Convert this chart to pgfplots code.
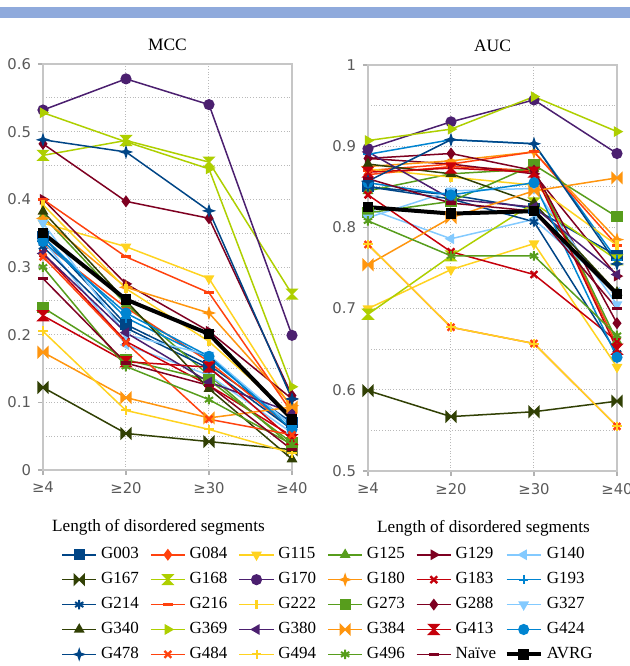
\documentclass[border=0pt]{standalone}
\usepackage{pgfplots}
\pgfplotsset{compat=1.18}
\usepackage{fontspec}
\setmainfont{Liberation Serif}
\newfontfamily\tickfont{DejaVu Sans}

% LibreOffice default chart palette
\definecolor{cA}{HTML}{004586}
\definecolor{cB}{HTML}{FF420E}
\definecolor{cC}{HTML}{FFD320}
\definecolor{cD}{HTML}{579D1C}
\definecolor{cE}{HTML}{7E0021}
\definecolor{cF}{HTML}{83CAFF}
\definecolor{cG}{HTML}{314004}
\definecolor{cH}{HTML}{AECF00}
\definecolor{cI}{HTML}{4B1F6F}
\definecolor{cJ}{HTML}{FF950E}
\definecolor{cK}{HTML}{C5000B}
\definecolor{cL}{HTML}{0084D1}
\definecolor{band}{RGB}{143,170,220}

\pgfdeclareplotmark{bowtie}{%
  \pgfpathmoveto{\pgfqpoint{-\pgfplotmarksize}{\pgfplotmarksize}}%
  \pgfpathlineto{\pgfqpoint{\pgfplotmarksize}{-\pgfplotmarksize}}%
  \pgfpathlineto{\pgfqpoint{\pgfplotmarksize}{\pgfplotmarksize}}%
  \pgfpathlineto{\pgfqpoint{-\pgfplotmarksize}{-\pgfplotmarksize}}%
  \pgfpathclose\pgfusepathqfillstroke}
\pgfdeclareplotmark{hourglass}{%
  \pgfpathmoveto{\pgfqpoint{-\pgfplotmarksize}{\pgfplotmarksize}}%
  \pgfpathlineto{\pgfqpoint{\pgfplotmarksize}{\pgfplotmarksize}}%
  \pgfpathlineto{\pgfqpoint{-\pgfplotmarksize}{-\pgfplotmarksize}}%
  \pgfpathlineto{\pgfqpoint{\pgfplotmarksize}{-\pgfplotmarksize}}%
  \pgfpathclose\pgfusepathqfillstroke}
\pgfdeclareplotmark{star4}{%
  \pgfpathmoveto{\pgfqpoint{0pt}{\pgfplotmarksize}}%
  \pgfpathlineto{\pgfqpoint{0.25\pgfplotmarksize}{0.25\pgfplotmarksize}}%
  \pgfpathlineto{\pgfqpoint{\pgfplotmarksize}{0pt}}%
  \pgfpathlineto{\pgfqpoint{0.25\pgfplotmarksize}{-0.25\pgfplotmarksize}}%
  \pgfpathlineto{\pgfqpoint{0pt}{-\pgfplotmarksize}}%
  \pgfpathlineto{\pgfqpoint{-0.25\pgfplotmarksize}{-0.25\pgfplotmarksize}}%
  \pgfpathlineto{\pgfqpoint{-\pgfplotmarksize}{0pt}}%
  \pgfpathlineto{\pgfqpoint{-0.25\pgfplotmarksize}{0.25\pgfplotmarksize}}%
  \pgfpathclose\pgfusepathqfillstroke}

\pgfplotscreateplotcyclelist{lo}{
{cA,mark=square*},
{cB,mark=diamond*},
{cC,mark=triangle*,mark options={rotate=180}},
{cD,mark=triangle*},
{cE,mark=triangle*,mark options={rotate=-90}},
{cF,mark=triangle*,mark options={rotate=90}},
{cG,mark=bowtie},
{cH,mark=hourglass},
{cI,mark=*},
{cJ,mark=star4},
{cK,mark=x,mark options={line width=1.2pt}},
{cL,mark=+,mark options={line width=1pt}},
{cA,mark=asterisk,mark options={line width=1pt}},
{cB,mark=-,mark options={line width=1.6pt}},
{cC,mark=|,mark options={line width=1.6pt}},
{cD,mark=square*},
{cE,mark=diamond*},
{cF,mark=triangle*,mark options={rotate=180}},
{cG,mark=triangle*},
{cH,mark=triangle*,mark options={rotate=-90}},
{cI,mark=triangle*,mark options={rotate=90}},
{cJ,mark=bowtie},
{cK,mark=hourglass},
{cL,mark=*},
{cA,mark=star4},
{cB,mark=x,mark options={line width=1.2pt}},
{cC,mark=+,mark options={line width=1pt}},
{cD,mark=asterisk,mark options={line width=1pt}},
{cE,mark=-,mark options={line width=1.6pt}},
{black,mark=square*,line width=2pt,mark options={line width=0.5pt}},
}

\pgfplotsset{
  panel/.style={
    scale only axis, width=124.5pt, height=203pt,
    xmin=0, xmax=3, xtick={0,1,2,3},
    xticklabels={≥4,≥20,≥30,≥40},
    minor y tick num=1, grid=both,
    major grid style={densely dotted, gray!55, line width=0.5pt},
    minor grid style={densely dotted, gray!55, line width=0.5pt},
    axis line style={gray!45, line width=0.8pt},
    tick style={gray!60, line width=0.6pt},
    tick align=outside, major tick length=2.5pt, minor tick length=0pt,
    tick pos=left,
    ticklabel style={font=\tickfont\fontsize{7.4}{8}\selectfont, text=black!65},
    /pgf/number format/assume math mode=true,
    y tick label style={/pgf/number format/fixed, /pgf/number format/precision=1},
    title style={font=\fontsize{8.7}{10}\selectfont, yshift=-3pt},
    xlabel={Length of disordered segments},
    xlabel style={font=\fontsize{8.6}{10}\selectfont, at={(axis description cs:0.5,0)}, anchor=center, yshift=-28.5pt, xshift=-4.5pt},
    clip=false,
    cycle list name=lo,
    every axis plot/.append style={line width=0.75pt, mark size=2.4pt},
  },
}
\newcommand\lgd[1]{\makebox[21pt][l]{#1}}

\begin{document}
\begin{tikzpicture}
\fill[band] (0pt,324pt) rectangle (315pt,329.5pt);

\begin{axis}[panel, at={(21.5pt,98pt)}, anchor=south west,
  title={MCC}, ymin=0, ymax=0.6, ytick={0,0.1,0.2,0.3,0.4,0.5,0.6}]
\addplot coordinates {(0,0.345)(1,0.215)(2,0.155)(3,0.070)}; % G003
\addplot coordinates {(0,0.335)(1,0.240)(2,0.160)(3,0.060)}; % G084
\addplot coordinates {(0,0.365)(1,0.330)(2,0.283)(3,0.090)}; % G115
\addplot coordinates {(0,0.375)(1,0.245)(2,0.140)(3,0.035)}; % G125
\addplot coordinates {(0,0.400)(1,0.275)(2,0.205)(3,0.105)}; % G129
\addplot coordinates {(0,0.340)(1,0.185)(2,0.140)(3,0.055)}; % G140
\addplot coordinates {(0,0.122)(1,0.054)(2,0.042)(3,0.030)}; % G167
\addplot coordinates {(0,0.465)(1,0.487)(2,0.455)(3,0.260)}; % G168
\addplot coordinates {(0,0.532)(1,0.578)(2,0.540)(3,0.199)}; % G170
\addplot coordinates {(0,0.372)(1,0.270)(2,0.232)(3,0.095)}; % G180
\addplot coordinates {(0,0.320)(1,0.190)(2,0.125)(3,0.050)}; % G183
\addplot coordinates {(0,0.345)(1,0.225)(2,0.165)(3,0.065)}; % G193
\addplot coordinates {(0,0.330)(1,0.210)(2,0.150)(3,0.060)}; % G214
\addplot coordinates {(0,0.400)(1,0.315)(2,0.262)(3,0.085)}; % G216
\addplot coordinates {(0,0.392)(1,0.268)(2,0.190)(3,0.080)}; % G222
\addplot coordinates {(0,0.240)(1,0.163)(2,0.133)(3,0.040)}; % G273
\addplot coordinates {(0,0.482)(1,0.397)(2,0.372)(3,0.110)}; % G288
\addplot coordinates {(0,0.365)(1,0.200)(2,0.170)(3,0.065)}; % G327
\addplot coordinates {(0,0.382)(1,0.250)(2,0.120)(3,0.016)}; % G340
\addplot coordinates {(0,0.528)(1,0.485)(2,0.445)(3,0.123)}; % G369
\addplot coordinates {(0,0.320)(1,0.203)(2,0.130)(3,0.085)}; % G380
\addplot coordinates {(0,0.174)(1,0.107)(2,0.077)(3,0.093)}; % G384
\addplot coordinates {(0,0.228)(1,0.160)(2,0.152)(3,0.045)}; % G413
\addplot coordinates {(0,0.338)(1,0.232)(2,0.168)(3,0.060)}; % G424
\addplot coordinates {(0,0.488)(1,0.470)(2,0.383)(3,0.105)}; % G478
\addplot coordinates {(0,0.315)(1,0.188)(2,0.075)(3,0.052)}; % G484
\addplot coordinates {(0,0.205)(1,0.088)(2,0.060)(3,0.025)}; % G494
\addplot coordinates {(0,0.300)(1,0.153)(2,0.104)(3,0.038)}; % G496
\addplot coordinates {(0,0.283)(1,0.158)(2,0.125)(3,0.030)}; % Naive
\addplot coordinates {(0,0.350)(1,0.252)(2,0.201)(3,0.075)}; % AVRG
\end{axis}

\begin{axis}[panel, at={(184pt,97.5pt)}, anchor=south west,
  title={AUC}, ymin=0.5, ymax=1, ytick={0.5,0.6,0.7,0.8,0.9,1},
  legend columns=6,
  legend style={at={(-1.257,-0.168)}, anchor=north west, draw=none, fill=none,
    font=\fontsize{8.5}{10}\selectfont, row sep=1.3pt,
    /tikz/every even column/.append style={column sep=1.5pt}},
  legend entries={\lgd{G003},\lgd{G084},\lgd{G115},\lgd{G125},\lgd{G129},\lgd{G140},
    \lgd{G167},\lgd{G168},\lgd{G170},\lgd{G180},\lgd{G183},\lgd{G193},
    \lgd{G214},\lgd{G216},\lgd{G222},\lgd{G273},\lgd{G288},\lgd{G327},
    \lgd{G340},\lgd{G369},\lgd{G380},\lgd{G384},\lgd{G413},\lgd{G424},
    \lgd{G478},\lgd{G484},\lgd{G494},\lgd{G496},\lgd{Naïve},\lgd{AVRG}}]
\addplot coordinates {(0,0.850)(1,0.840)(2,0.823)(3,0.765)}; % G003
\addplot coordinates {(0,0.865)(1,0.875)(2,0.870)(3,0.655)}; % G084
\addplot coordinates {(0,0.700)(1,0.748)(2,0.780)(3,0.628)}; % G115
\addplot coordinates {(0,0.845)(1,0.866)(2,0.872)(3,0.660)}; % G125
\addplot coordinates {(0,0.885)(1,0.878)(2,0.866)(3,0.740)}; % G129
\addplot coordinates {(0,0.823)(1,0.786)(2,0.810)(3,0.720)}; % G140
\addplot coordinates {(0,0.599)(1,0.567)(2,0.573)(3,0.586)}; % G167
\addplot coordinates {(0,0.693)(1,0.765)(2,0.830)(3,0.760)}; % G168
\addplot coordinates {(0,0.897)(1,0.930)(2,0.957)(3,0.891)}; % G170
\addplot coordinates {(0,0.875)(1,0.882)(2,0.893)(3,0.785)}; % G180
\addplot coordinates {(0,0.840)(1,0.770)(2,0.742)(3,0.660)}; % G183
\addplot coordinates {(0,0.890)(1,0.908)(2,0.903)(3,0.760)}; % G193
\addplot coordinates {(0,0.850)(1,0.835)(2,0.807)(3,0.645)}; % G214
\addplot coordinates {(0,0.870)(1,0.878)(2,0.893)(3,0.778)}; % G216
\addplot coordinates {(0,0.872)(1,0.862)(2,0.852)(3,0.778)}; % G222
\addplot coordinates {(0,0.818)(1,0.832)(2,0.877)(3,0.813)}; % G273
\addplot coordinates {(0,0.885)(1,0.891)(2,0.870)(3,0.682)}; % G288
\addplot coordinates {(0,0.812)(1,0.845)(2,0.848)(3,0.705)}; % G327
\addplot coordinates {(0,0.878)(1,0.866)(2,0.830)(3,0.720)}; % G340
\addplot coordinates {(0,0.907)(1,0.921)(2,0.961)(3,0.918)}; % G369
\addplot coordinates {(0,0.893)(1,0.835)(2,0.825)(3,0.742)}; % G380
\addplot coordinates {(0,0.754)(1,0.812)(2,0.845)(3,0.861)}; % G384
\addplot coordinates {(0,0.868)(1,0.873)(2,0.868)(3,0.650)}; % G413
\addplot coordinates {(0,0.855)(1,0.840)(2,0.855)(3,0.640)}; % G424
\addplot coordinates {(0,0.857)(1,0.908)(2,0.903)(3,0.755)}; % G478
\addplot coordinates {(0,0.779)(1,0.677)(2,0.657)(3,0.555)}; % G484
\addplot coordinates {(0,0.779)(1,0.677)(2,0.657)(3,0.555)}; % G494
\addplot coordinates {(0,0.808)(1,0.765)(2,0.765)(3,0.667)}; % G496
\addplot coordinates {(0,0.860)(1,0.830)(2,0.820)(3,0.700)}; % Naive
\addplot coordinates {(0,0.825)(1,0.817)(2,0.820)(3,0.718)}; % AVRG
\end{axis}

\pgfresetboundingbox
\path (0pt,0pt) rectangle (315pt,333pt);
\end{tikzpicture}
\end{document}
